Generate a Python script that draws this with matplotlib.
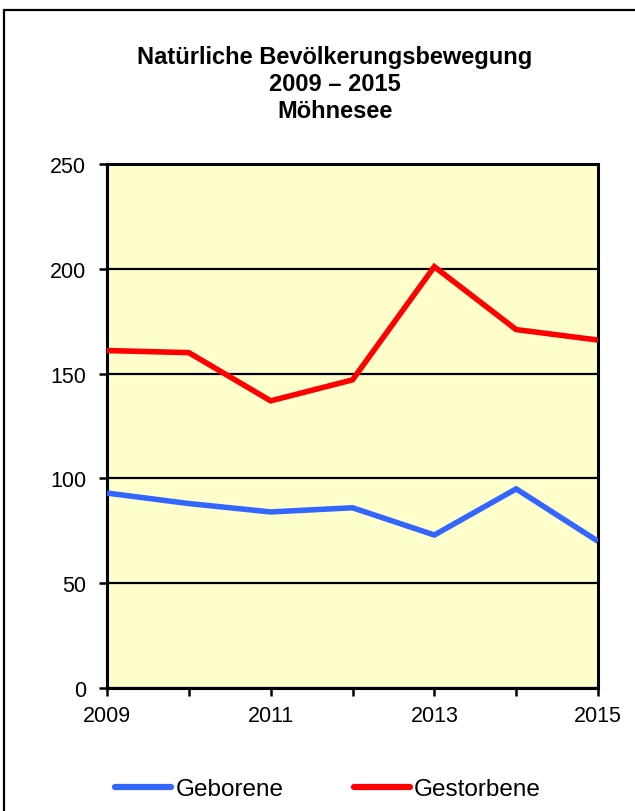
import matplotlib
matplotlib.use("Agg")
import matplotlib.pyplot as plt
from matplotlib.patches import Rectangle

plt.rcParams['font.family'] = ['Liberation Sans', 'DejaVu Sans']

years = [2009, 2010, 2011, 2012, 2013, 2014, 2015]
geborene = [93, 88, 84, 86, 73, 95, 70]
gestorbene = [161, 160, 137, 147, 201, 171, 166]
xtick_labels = ["2009", "", "2011", "", "2013", "", "2015"]
yticks = [0, 50, 100, 150, 200, 250]
title = "Natürliche Bevölkerungsbewegung\n2009 – 2015\nMöhnesee"

W, H = 635, 812
fig = plt.figure(figsize=(W / 100, H / 100), dpi=100)
fig.patch.set_facecolor("white")

# outer frame
fig.patches.append(Rectangle((4 / W, -0.05), 1.1, 1 - 11 / H + 0.05,
                             transform=fig.transFigure, fill=False,
                             edgecolor="black", linewidth=1.6))

ax = fig.add_axes([107 / W, 1 - 689 / H, (598 - 107) / W, (689 - 165) / H])
ax.set_facecolor("#FFFFCC")

ax.plot(years, geborene, color="#3366FF", linewidth=4, label="Geborene",
        solid_capstyle="butt", solid_joinstyle="miter", zorder=3)
ax.plot(years, gestorbene, color="#FF0000", linewidth=4, label="Gestorbene",
        solid_capstyle="butt", solid_joinstyle="miter", zorder=3)

ax.set_xlim(years[0], years[-1])
ax.set_ylim(0, 250)
ax.set_yticks(yticks)
ax.set_xticks(years)
ax.set_xticklabels(xtick_labels)
ax.tick_params(axis="both", labelsize=15.5, direction="out", length=6,
               width=1.8, color="black")
ax.tick_params(axis="y", pad=9)
ax.tick_params(axis="x", pad=6)
ax.yaxis.grid(True, color="black", linewidth=1.6)
ax.set_axisbelow(True)
for s in ax.spines.values():
    s.set_linewidth(2.2)
    s.set_color("black")

fig.text(335 / W, 1 - 46 / H, title, ha="center", va="top", fontsize=17,
         fontweight="bold", linespacing=1.22)

leg = fig.legend(loc="center", bbox_to_anchor=(328 / W, 1 - 790 / H),
                 ncol=2, frameon=False, fontsize=17.5, handlelength=2.3,
                 handletextpad=0.17, columnspacing=2.9)
for line in leg.get_lines():
    line.set_linewidth(4.5)
    line.set_solid_capstyle("round")

fig.savefig("out.png", dpi=100, facecolor="white")
